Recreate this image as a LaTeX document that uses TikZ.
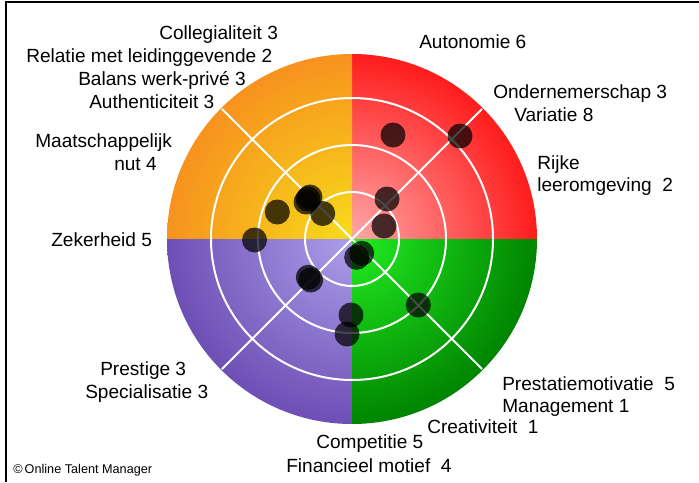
\documentclass[tikz,border=0pt]{standalone}
\usepackage{fontspec}
\setmainfont{Liberation Sans}
\definecolor{redin}{HTML}{FFA8A8}
\definecolor{redout}{HTML}{FF1C1C}
\definecolor{orin}{HTML}{F7DC1A}
\definecolor{orout}{HTML}{F7921E}
\definecolor{puin}{HTML}{AC9FEA}
\definecolor{puout}{HTML}{6E4FB5}
\definecolor{grin}{HTML}{22EE22}
\definecolor{grout}{HTML}{008400}
\begin{document}
\begin{tikzpicture}[x=0.75pt,y=-0.75pt,
  lbl/.style={font=\fontsize{14.3}{17}\selectfont, inner sep=0pt, anchor=base west},
  ring/.style={white, line width=1.5pt},
  dot/.style={black, opacity=0.72}]
\useasboundingbox (0,0) rectangle (699,482);
\fill[white] (0,0) rectangle (699,482);
\draw[line width=1.5pt] (6,482) -- (6,1.5) -- (699,1.5);

\coordinate (c) at (352,239);
% four quadrants
\begin{scope}
  \clip (c) rectangle +(190,-190);
  \shade[inner color=redin, outer color=redout] (c) circle[radius=185];
\end{scope}
\begin{scope}
  \clip (c) rectangle +(-190,-190);
  \shade[inner color=orin, outer color=orout] (c) circle[radius=185];
\end{scope}
\begin{scope}
  \clip (c) rectangle +(-190,190);
  \shade[inner color=puin, outer color=puout] (c) circle[radius=185];
\end{scope}
\begin{scope}
  \clip (c) rectangle +(190,190);
  \shade[inner color=grin, outer color=grout] (c) circle[radius=185];
\end{scope}

% rings and diagonals
\foreach \r in {47,94,141}
  \draw[ring] (c) circle[radius=\r];
\draw[ring] (c) +(45:184) -- +(225:184);
\draw[ring] (c) +(135:184) -- +(315:184);

% scores
\foreach \x/\y in {393/135, 460/136, 387/199, 384/226,
    310/197, 306/202, 308/199, 322.7/213.5, 277.3/212,
    254.5/240, 310.7/280, 308.3/277.3,
    361.7/253.3, 356.7/257.3, 418.3/305, 351/315, 347/334}
  \fill[dot] (\x,\y) circle[radius=12.5];

% labels
\node[lbl] (colleg) at (159,39) {Collegialiteit 3};
\node[lbl] (relatie) at (26,62) {Relatie met leidinggevende 2};
\node[lbl] (balans) at (78,85) {Balans werk-privé 3};
\node[lbl] (authen) at (89,108) {Authenticiteit 3};
\node[lbl] (maatsch) at (35,147) {Maatschappelijk};
\node[lbl] (nut) at (114,170) {nut 4};
\node[lbl] (zeker) at (51,246) {Zekerheid 5};
\node[lbl] (prestige) at (100,375) {Prestige 3};
\node[lbl] (special) at (85,398) {Specialisatie 3};
\node[lbl] (autonom) at (419,48) {Autonomie 6};
\node[lbl] (ondern) at (493,98) {Ondernemerschap 3};
\node[lbl] (variatie) at (514,121) {Variatie 8};
\node[lbl, align=left, anchor=north west] (rijke) at (537,155) {Rijke\\leeromgeving\ \ 2};
\node[lbl, align=left, anchor=north west] (prestat) at (502,376) {Prestatiemotivatie\ \ 5\\Management 1};
\node[lbl] (creat) at (427,433) {Creativiteit\ \ 1};
\node[lbl] (compet) at (316,448) {Competitie 5};
\node[lbl] (financ) at (286,472) {Financieel motief\ \ 4};
\node[inner sep=0pt, anchor=base west, font=\fontsize{9.5}{11}\selectfont] (copy) at (13,473) {©\,Online Talent Manager};
\end{tikzpicture}
\end{document}
